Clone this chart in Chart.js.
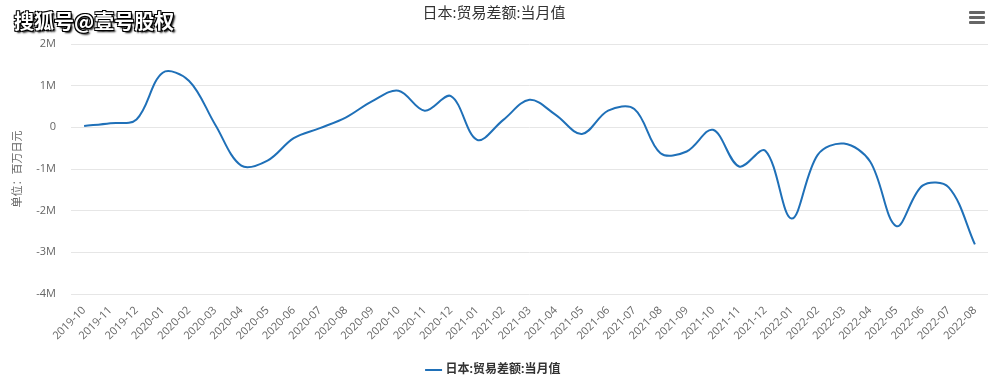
<!DOCTYPE html>
<html>
<head>
<meta charset="utf-8">
<script src="https://cdn.jsdelivr.net/npm/chart.js@4"></script>
<style>
  body { margin: 0; background: #fff; }
  #wrap { position: relative; width: 996px; height: 381px; }
  #watermark {
    position: absolute; left: 14px; top: 6px;
    font: bold 20px "Noto Sans CJK SC", sans-serif; color: #fff;
    text-shadow: 1px 1px 0 #000, -1px -1px 0 #000, 1px -1px 0 #000, -1px 1px 0 #000, 2px 2px 2px #000;
    z-index: 2;
  }
  #menu { position: absolute; left: 969px; top: 11px; width: 16px; z-index: 2; }
  #menu div { height: 3px; background: #666; margin-bottom: 2px; border-radius: 1px; }
</style>
</head>
<body>
<div id="wrap">
  <canvas id="tradeChart" width="996" height="381"></canvas>
  <div id="watermark">搜狐号@壹号股权</div>
  <div id="menu"><div></div><div></div><div></div></div>
</div>
<script>
// 月份
const months = [
  '2019-10', '2019-11', '2019-12', '2020-01', '2020-02', '2020-03', '2020-04', '2020-05',
  '2020-06', '2020-07', '2020-08', '2020-09', '2020-10', '2020-11', '2020-12', '2021-01',
  '2021-02', '2021-03', '2021-04', '2021-05', '2021-06', '2021-07', '2021-08', '2021-09',
  '2021-10', '2021-11', '2021-12', '2022-01', '2022-02', '2022-03', '2022-04', '2022-05',
  '2022-06', '2022-07', '2022-08'
];

// 贸易差额 (百万日元), 从图上读出来的
const tradeBalance = [
  30000, 100000, 190000, 1310000, 1120000, 70000, -920000, -800000,
  -260000, -20000, 240000, 630000, 880000, 400000, 750000, -300000,
  180000, 660000, 300000, -160000, 400000, 440000, -620000, -580000,
  -60000, -940000, -560000, -2190000, -660000, -390000, -820000, -2370000,
  -1400000, -1440000, -2810000
];

const yTicks = [-4000000, -3000000, -2000000, -1000000, 0, 1000000, 2000000];

const seriesName = '日本:贸易差额:当月值';
const lineColor = '#1f70b8';
const baseFont = '"Open Sans", "Noto Sans CJK SC", sans-serif';

const ctx = document.getElementById('tradeChart').getContext('2d');

new Chart(ctx, {
  type: 'line',
  data: {
    labels: months,
    datasets: [{
      label: seriesName,
      data: tradeBalance,
      borderColor: lineColor,
      backgroundColor: lineColor,
      borderWidth: 2,
      pointRadius: 0,
      pointHoverRadius: 4,
      tension: 0.35,
      fill: false
    }]
  },
  options: {
    responsive: false,
    animation: false,
    // 底部负值, 把图例往下推一点
    layout: { padding: { left: 0, right: 8, top: 0, bottom: -5 } },
    plugins: {
      title: {
        display: true,
        text: seriesName,
        color: '#333',
        font: { family: baseFont, size: 15, weight: 'normal' },
        padding: { top: 5, bottom: 21 }
      },
      legend: {
        position: 'bottom',
        labels: {
          usePointStyle: true,
          pointStyle: 'line',
          boxWidth: 16,
          color: '#333',
          font: { family: baseFont, size: 12, weight: 'bold' },
          padding: 6
        }
      },
      tooltip: { enabled: true }
    },
    scales: {
      x: {
        offset: true,
        grid: { display: false },
        border: { display: false },
        ticks: {
          color: '#666',
          font: { family: baseFont, size: 11 },
          minRotation: 45,
          maxRotation: 45,
          autoSkip: false,
          padding: 2
        },
        // 固定高度, 让绘图区底部对上
        afterFit: (scale) => { scale.height = 64; }
      },
      y: {
        min: -4000000,
        max: 2000000,
        afterBuildTicks: (scale) => { scale.ticks = yTicks.map(v => ({ value: v })); },
        grid: { color: '#e6e6e6', drawTicks: false },
        border: { display: false },
        ticks: {
          color: '#666',
          font: { family: baseFont, size: 11 },
          padding: 15,
          callback: (v) => v === 0 ? '0' : (v / 1000000) + 'M'
        },
        title: {
          display: true,
          text: '单位：百万日元',
          color: '#666',
          font: { family: baseFont, size: 11 },
          padding: { top: 11, bottom: 0 }
        },
        afterFit: (scale) => { scale.width = 71; }
      }
    }
  }
});
</script>
</body>
</html>
